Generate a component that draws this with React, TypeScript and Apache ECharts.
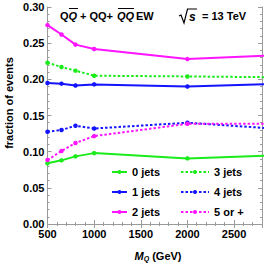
import React, { useEffect, useRef } from "react";
import * as echarts from "echarts";

const massValues = [500, 650, 800, 1000, 2000, 3000];
const jets0 = [0.084, 0.088, 0.0935, 0.098, 0.0907, 0.0952];
const jets1 = [0.195, 0.194, 0.1915, 0.193, 0.19, 0.1938];
const jets2 = [0.275, 0.262, 0.248, 0.242, 0.228, 0.2336];
const jets3 = [0.223, 0.217, 0.212, 0.205, 0.204, 0.2028];
const jets4 = [0.1275, 0.13, 0.1358, 0.132, 0.14, 0.1313];
const jets5 = [0.0884, 0.101, 0.112, 0.1215, 0.1385, 0.1385];
const seriesNames = ["0 jets", "1 jets", "2 jets", "3 jets", "4 jets", "5 or +"];
const xTicks = [500, 1000, 1500, 2000, 2500];

const GREEN = "#1aeb1a";
const BLUE = "#1414ff";
const MAGENTA = "#ff14ff";
const FONT = "Liberation Sans";

export default function App() {
  const ref = useRef<HTMLDivElement>(null);
  useEffect(() => {
    document.body.style.margin = "0";
    const chart = echarts.init(ref.current!, null, { renderer: "svg" });
    const pairs = (ys: number[]) => massValues.map((x, i) => [x, ys[i]]);
    const mk = (name: string, ys: number[], color: string, dashed: boolean) => ({
      name,
      type: "line",
      data: pairs(ys),
      xAxisIndex: 0,
      yAxisIndex: 0,
      clip: true,
      symbol: "circle",
      symbolSize: 4.5,
      showSymbol: true,
      itemStyle: { color },
      lineStyle: { color, width: 2, type: dashed ? [2.5, 2] : "solid" },
    });
    const axisLine = { show: true, lineStyle: { color: "#9a9a9a", width: 1 } };
    const tickStyle = { color: "#9a9a9a", width: 1 };
    const labelStyle = { color: "#000", fontFamily: FONT, fontWeight: "bold" as const, fontSize: 11 };
    chart.setOption({
      animation: false,
      grid: { left: 47.5, right: 4, top: 7, bottom: 40 },
      xAxis: [
        {
          type: "value", min: 500, max: 2800, interval: 500, position: "bottom",
          axisLine, axisTick: { inside: true, length: 4, lineStyle: tickStyle },
          minorTick: { show: true, splitNumber: 5, length: 2, lineStyle: tickStyle },
          splitLine: { show: false },
          axisLabel: { ...labelStyle, margin: 4, showMaxLabel: false,
            formatter: (v: number) => (xTicks.includes(v) ? String(v) : "") },
        },
        {
          type: "value", min: 500, max: 2800, interval: 500, position: "top",
          axisLine, axisTick: { inside: true, length: 4, lineStyle: tickStyle },
          minorTick: { show: true, splitNumber: 5, length: 2, lineStyle: tickStyle },
          splitLine: { show: false }, axisLabel: { show: false },
        },
      ],
      yAxis: [
        {
          type: "value", min: 0, max: 0.3, interval: 0.05, position: "left",
          axisLine, axisTick: { inside: true, length: 4, lineStyle: tickStyle },
          minorTick: { show: true, splitNumber: 5, length: 2, lineStyle: tickStyle },
          splitLine: { show: false },
          axisLabel: { ...labelStyle, margin: 3, formatter: (v: number) => v.toFixed(2) },
        },
        {
          type: "value", min: 0, max: 0.3, interval: 0.05, position: "right",
          axisLine, axisTick: { inside: true, length: 4, lineStyle: tickStyle },
          minorTick: { show: true, splitNumber: 5, length: 2, lineStyle: tickStyle },
          splitLine: { show: false }, axisLabel: { show: false },
        },
      ],
      legend: [
        {
          data: seriesNames.slice(0, 3), orient: "vertical", left: 111, top: 166,
          itemWidth: 15, itemHeight: 5, itemGap: 8,
          textStyle: { ...labelStyle, lineHeight: 12 },
          padding: 0,
        },
        {
          data: seriesNames.slice(3), orient: "vertical", left: 180, top: 166,
          itemWidth: 28, itemHeight: 5, itemGap: 8,
          textStyle: { ...labelStyle, lineHeight: 12 },
          padding: 0,
        },
      ],
      series: [
        mk(seriesNames[0], jets0, GREEN, false),
        mk(seriesNames[1], jets1, BLUE, false),
        mk(seriesNames[2], jets2, MAGENTA, false),
        mk(seriesNames[3], jets3, GREEN, true),
        mk(seriesNames[4], jets4, BLUE, true),
        mk(seriesNames[5], jets5, MAGENTA, true),
      ],
      graphic: [
        { type: "text", x: 9, y: 103, rotation: Math.PI / 2, style: { text: "fraction of events", font: `bold 11px '${FONT}'`, fill: "#000", align: "center", verticalAlign: "middle" } },
        { type: "text", x: 158, y: 256, style: { text: "{it|M}{sub|Q} (GeV)", font: `bold 11px '${FONT}'`, fill: "#000", align: "center", verticalAlign: "middle",
          rich: { it: { fontStyle: "italic", fontWeight: "bold", fontSize: 11, fontFamily: FONT }, sub: { fontStyle: "italic", fontWeight: "bold", fontSize: 7, fontFamily: FONT, verticalAlign: "bottom", padding: [4, 0, 0, 0] } } } },
        { type: "text", x: 60, y: 16, style: { text: "Q", font: `bold 11px '${FONT}'`, fill: "#000", verticalAlign: "middle" } },
        { type: "text", x: 68.5, y: 16, style: { text: "Q", font: `italic bold 11px '${FONT}'`, fill: "#000", verticalAlign: "middle" } },
        { type: "line", shape: { x1: 69, y1: 8.5, x2: 78, y2: 8.5 }, style: { stroke: "#000", lineWidth: 1 } },
        { type: "text", x: 80, y: 16, style: { text: "+ QQ+", font: `bold 11px '${FONT}'`, fill: "#000", verticalAlign: "middle" } },
        { type: "text", x: 117, y: 16, style: { text: "QQ", font: `italic bold 11px '${FONT}'`, fill: "#000", verticalAlign: "middle" } },
        { type: "line", shape: { x1: 118, y1: 8.5, x2: 134, y2: 8.5 }, style: { stroke: "#000", lineWidth: 1 } },
        { type: "text", x: 136, y: 16, style: { text: "EW", font: `bold 11px '${FONT}'`, fill: "#000", verticalAlign: "middle" } },
        { type: "polyline", shape: { points: [[179, 16], [181, 15], [184, 23], [187.5, 9], [197, 9]] }, style: { stroke: "#000", lineWidth: 1.2, fill: "none" } },
        { type: "text", x: 189, y: 17, style: { text: "s", font: `italic bold 12px '${FONT}'`, fill: "#000", verticalAlign: "middle" } },
        { type: "text", x: 202, y: 16, style: { text: "= 13 TeV", font: `bold 11px '${FONT}'`, fill: "#000", verticalAlign: "middle" } },
      ],
    });
    return () => chart.dispose();
  }, []);
  return <div ref={ref} style={{ width: 266, height: 264 }} />;
}
